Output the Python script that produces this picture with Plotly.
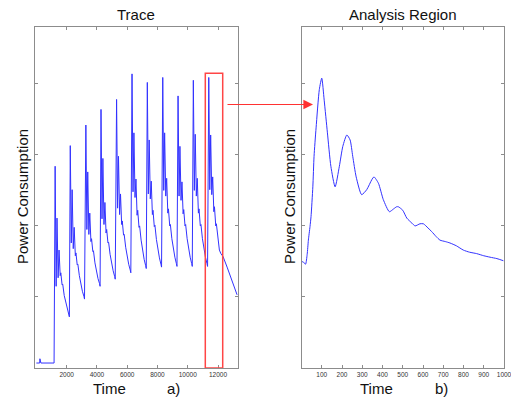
import plotly.graph_objects as go

# ---------------- data ----------------
# baseline before the first cycle (time, power)
base_time = [0, 220, 235, 250, 300, 1170]
base_power = [0.07, 0.07, 0.13, 0.09, 0.07, 0.07]

# peak time of each cycle in the trace
cycle_peak_time = [1240, 2240, 3270, 4270, 5300, 6320, 7330, 8350, 9360, 10370, 11390]
# time offsets (after the peak) of the key points read in each cycle
cycle_offsets = [0, 66, 124, 197, 258, 334, 375, 460, 502, 600, 700, 800, 900, 940]
# power at those key points for each cycle
cycle_power = [
    [2.84, 1.15, 2.11, 1.27, 1.66, 1.30, 1.34, 1.17, 1.18, 1.02, 0.92, 0.84, 0.77, 0.72],
    [3.13, 1.76, 2.51, 1.68, 1.98, 1.58, 1.62, 1.45, 1.46, 1.30, 1.18, 1.08, 1.01, 0.97],
    [3.42, 1.95, 2.76, 1.88, 2.18, 1.78, 1.82, 1.64, 1.65, 1.48, 1.36, 1.26, 1.19, 1.15],
    [3.64, 2.10, 2.95, 2.02, 2.33, 1.90, 1.95, 1.76, 1.77, 1.60, 1.47, 1.37, 1.29, 1.25],
    [3.78, 2.25, 2.98, 2.16, 2.45, 2.02, 2.07, 1.87, 1.88, 1.70, 1.57, 1.46, 1.38, 1.34],
    [4.14, 2.48, 3.31, 2.40, 2.66, 2.15, 2.22, 1.98, 2.00, 1.80, 1.65, 1.53, 1.44, 1.40],
    [4.02, 2.45, 3.21, 2.38, 2.63, 2.16, 2.22, 1.99, 2.01, 1.81, 1.67, 1.55, 1.46, 1.42],
    [4.09, 2.50, 3.31, 2.42, 2.67, 2.18, 2.24, 2.00, 2.02, 1.82, 1.68, 1.56, 1.47, 1.43],
    [3.83, 2.42, 3.12, 2.36, 2.62, 2.17, 2.23, 2.00, 2.02, 1.82, 1.68, 1.56, 1.47, 1.43],
    [4.05, 2.50, 3.29, 2.42, 2.67, 2.18, 2.24, 2.00, 2.02, 1.82, 1.68, 1.56, 1.47, 1.43],
    [4.09, 2.51, 3.28, 2.44, 2.69, 2.20, 2.27, 2.00, 2.03, 1.79, 1.66, 1.61, 1.58, 1.57],
]
# tail of the trace after the last cycle
tail_time = [12600, 12800, 13000, 13260]
tail_power = [1.42, 1.31, 1.18, 1.03]

# analysis region (zoomed cycle)
region_time = [0, 10, 20, 28, 34, 42, 47, 56, 62, 72, 88, 100, 112, 128, 145, 166,
               187, 204, 224, 240, 253, 270, 297, 322, 347, 358, 380, 404, 434, 455,
               470, 478, 500, 520, 545, 561, 585, 602, 625, 643, 665, 684, 710, 733,
               765, 799, 830, 865, 900, 931, 965, 997]
region_power = [1.50, 1.49, 1.46, 1.60, 1.80, 1.99, 2.13, 2.55, 2.98, 3.38, 3.92, 4.08,
                3.77, 3.31, 2.84, 2.55, 2.84, 3.12, 3.28, 3.21, 2.98, 2.69, 2.44, 2.51,
                2.65, 2.69, 2.60, 2.37, 2.20, 2.24, 2.27, 2.27, 2.22, 2.11, 2.04, 2.00,
                2.03, 2.03, 1.97, 1.92, 1.85, 1.80, 1.78, 1.76, 1.72, 1.66, 1.63, 1.61,
                1.58, 1.56, 1.54, 1.51]

left_ticks = [2000, 4000, 6000, 8000, 10000, 12000]
right_ticks = [100, 200, 300, 400, 500, 600, 700, 800, 900, 1000]
y_ticks = [1, 2, 3, 4]

box_x = [11160, 12310]
box_top = 4.15

# ---------------- build trace ----------------
trace_t = list(base_time)
trace_p = list(base_power)
for pk, vals in zip(cycle_peak_time, cycle_power):
    for off, v in zip(cycle_offsets, vals):
        trace_t.append(pk + off)
        trace_p.append(v)
trace_t += tail_time
trace_p += tail_power

W, H = 511, 398
def px(x):
    return x / W
def py(y):
    return 1 - y / H

FONT = "Liberation Sans, Arial, sans-serif"
LINE = "rgb(50,50,255)"
FRAME = "#8c8c8c"

fig = go.Figure()
fig.add_trace(go.Scatter(x=trace_t, y=trace_p, mode="lines",
                         line=dict(color=LINE, width=1.0), xaxis="x", yaxis="y",
                         showlegend=False, hoverinfo="skip"))
fig.add_trace(go.Scatter(x=region_time, y=region_power, mode="lines",
                         line=dict(color=LINE, width=1.0, shape="spline", smoothing=0.6),
                         xaxis="x2", yaxis="y2",
                         showlegend=False, hoverinfo="skip"))

axis_common = dict(showgrid=False, zeroline=False, showline=True, linecolor=FRAME,
                   linewidth=1, mirror="allticks", ticks="inside", ticklen=3,
                   tickcolor=FRAME, ticklabeloverflow="allow", automargin=False,
                   tickfont=dict(family=FONT, size=6.5, color="#333"))

fig.update_layout(
    width=W, height=H,
    margin=dict(l=0, r=0, t=0, b=0, autoexpand=False),
    paper_bgcolor="white", plot_bgcolor="white",
    xaxis=dict(domain=[px(35), px(238)], range=[-90, 13320], tickvals=left_ticks,
               ticktext=[str(v) for v in left_ticks], anchor="y", **axis_common),
    yaxis=dict(domain=[py(368), py(27)], range=[0, 4.8], tickvals=y_ticks,
               showticklabels=False, anchor="x", **axis_common),
    xaxis2=dict(domain=[px(301.5), px(504)], range=[0, 1000], tickvals=right_ticks,
                ticktext=[str(v) for v in right_ticks], anchor="y2", **axis_common),
    yaxis2=dict(domain=[py(368), py(27)], range=[0, 4.8], tickvals=y_ticks,
                showticklabels=False, anchor="x2", **axis_common),
)

fig.add_shape(type="rect", xref="x", yref="y", x0=box_x[0], x1=box_x[1], y0=0, y1=box_top,
              line=dict(color="rgb(255,70,70)", width=1.5))

def label(text, x, y, size=15, angle=0):
    fig.add_annotation(text=text, xref="paper", yref="paper", x=px(x), y=py(y),
                       showarrow=False, textangle=angle, xanchor="center", yanchor="middle",
                       font=dict(family=FONT, size=size, color="#111"))

label("Trace", 136, 15)
label("Analysis Region", 403, 15)
label("Time", 109, 388)
label("a)", 173, 388)
label("Time", 376, 388)
label("b)", 441, 388)
label("Power Consumption", 22, 197, angle=-90)
label("Power Consumption", 289, 197, angle=-90)

fig.add_annotation(x=px(313), y=py(104.5), xref="paper", yref="paper",
                   ax=-87, ay=0, axref="pixel", ayref="pixel", text="",
                   showarrow=True, arrowhead=2, arrowsize=1.6, arrowwidth=1.2,
                   arrowcolor="rgb(255,50,50)", standoff=0)

fig.write_html("out.html")
